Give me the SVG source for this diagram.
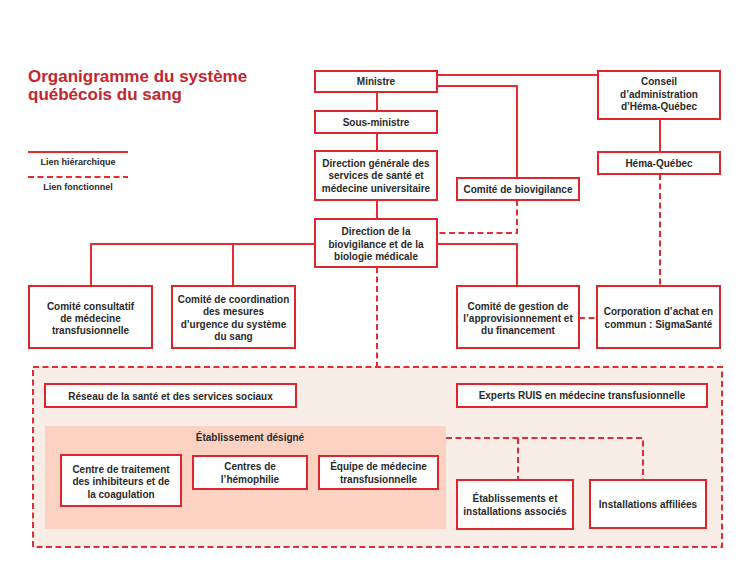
<svg xmlns="http://www.w3.org/2000/svg" width="750" height="580" viewBox="0 0 750 580">
<style>
.box{fill:#fff;stroke:#e0262d;stroke-width:2}
.ln{fill:none;stroke:#e52c32;stroke-width:2}
.ds{fill:none;stroke:#e52c32;stroke-width:2;stroke-dasharray:6 3.5}
.t{font-family:"Liberation Sans",Arial,sans-serif;font-size:10px;font-weight:bold;fill:#2a2a2a;text-anchor:middle}
.lg{font-family:"Liberation Sans",Arial,sans-serif;font-size:9px;font-weight:bold;fill:#2a2a2a;text-anchor:middle}
.title{font-family:"Liberation Sans",Arial,sans-serif;font-size:17px;font-weight:bold;fill:#c1272d}
</style>
<rect width="750" height="580" fill="#fff"/>
<g id="title">
<text class="title" x="28" y="82">Organigramme du système</text>
<text class="title" x="28" y="100">québécois du sang</text>
</g>
<g id="legend">
<line class="ln" x1="28" y1="152" x2="128" y2="152"/>
<text class="lg" x="78" y="165">Lien hiérarchique</text>
<line class="ds" x1="28" y1="177" x2="128" y2="177"/>
<text class="lg" x="78" y="189.5">Lien fonctionnel</text>
</g>
<g id="zone-reseau">
<rect x="33" y="367" width="689" height="180" fill="#f9ede7" stroke="#e52c32" stroke-width="2" stroke-dasharray="6 3.5"/>
<rect x="45" y="426" width="401" height="103" fill="#fcd3c3"/>
<text class="t" x="250" y="441">Établissement désigné</text>
</g>
<g id="connectors">
<line class="ln" x1="377" y1="92" x2="377" y2="111"/>
<line class="ln" x1="377" y1="133" x2="377" y2="151"/>
<line class="ln" x1="377" y1="200" x2="377" y2="219"/>
<line class="ln" x1="437" y1="75" x2="598" y2="75"/>
<polyline class="ln" points="437,86 517,86 517,178"/>
<line class="ln" x1="660" y1="119" x2="660" y2="152"/>
<polyline class="ds" points="517,200 517,233 437,233"/>
<polyline class="ln" points="437,244 517,244 517,286"/>
<polyline class="ln" points="315,244 91,244 91,286"/>
<line class="ln" x1="233" y1="244" x2="233" y2="286"/>
<line class="ds" x1="660" y1="174" x2="660" y2="286"/>
<line class="ds" x1="579" y1="318" x2="597" y2="318"/>
<line class="ds" x1="377" y1="267" x2="377" y2="367"/>
<polyline class="ds" points="446,438 643,438 643,480"/>
<line class="ds" x1="518" y1="438" x2="518" y2="480"/>
</g>
<g id="ministre">
<rect class="box" x="315" y="71" width="122" height="21"/>
<text class="t" x="376" y="85">Ministre</text>
</g>
<g id="sous-ministre">
<rect class="box" x="315" y="111" width="122" height="22"/>
<text class="t" x="376" y="125.5">Sous-ministre</text>
</g>
<g id="direction-generale">
<rect class="box" x="315" y="151" width="122" height="49"/>
<text class="t" x="376" y="166.5">Direction générale des</text>
<text class="t" x="376" y="179">services de santé et</text>
<text class="t" x="376" y="191.5">médecine universitaire</text>
</g>
<g id="direction-biovigilance">
<rect class="box" x="315" y="219" width="122" height="48"/>
<text class="t" x="376" y="235">Direction de la</text>
<text class="t" x="376" y="247.5">biovigilance et de la</text>
<text class="t" x="376" y="259.5">biologie médicale</text>
</g>
<g id="comite-biovigilance">
<rect class="box" x="457" y="178" width="122" height="22"/>
<text class="t" x="518" y="192.5">Comité de biovigilance</text>
</g>
<g id="conseil">
<rect class="box" x="598" y="71" width="122" height="48"/>
<text class="t" x="659" y="85">Conseil</text>
<text class="t" x="659" y="97.5">d’administration</text>
<text class="t" x="659" y="110">d’Héma-Québec</text>
</g>
<g id="hema-quebec">
<rect class="box" x="598" y="152" width="122" height="22"/>
<text class="t" x="659" y="167">Héma-Québec</text>
</g>
<g id="comite-consultatif">
<rect class="box" x="29" y="286" width="123" height="62"/>
<text class="t" x="90.5" y="309.5">Comité consultatif</text>
<text class="t" x="90.5" y="322">de médecine</text>
<text class="t" x="90.5" y="334">transfusionnelle</text>
</g>
<g id="comite-coordination">
<rect class="box" x="172" y="286" width="123" height="62"/>
<text class="t" x="233.5" y="303">Comité de coordination</text>
<text class="t" x="233.5" y="315">des mesures</text>
<text class="t" x="233.5" y="327.5">d’urgence du système</text>
<text class="t" x="233.5" y="340">du sang</text>
</g>
<g id="comite-gestion">
<rect class="box" x="457" y="286" width="122" height="62"/>
<text class="t" x="518" y="309.5">Comité de gestion de</text>
<text class="t" x="518" y="322">l’approvisionnement et</text>
<text class="t" x="518" y="334">du financement</text>
</g>
<g id="corporation">
<rect class="box" x="597" y="286" width="123" height="62"/>
<text class="t" x="658.5" y="315">Corporation d’achat en</text>
<text class="t" x="658.5" y="327.5">commun : SigmaSanté</text>
</g>
<g id="reseau">
<rect class="box" x="45" y="384" width="251" height="23"/>
<text class="t" x="170.5" y="399.5">Réseau de la santé et des services sociaux</text>
</g>
<g id="experts-ruis">
<rect class="box" x="457" y="384" width="250" height="23"/>
<text class="t" x="582" y="398.5">Experts RUIS en médecine transfusionnelle</text>
</g>
<g id="centre-traitement">
<rect class="box" x="61" y="455" width="120" height="51"/>
<text class="t" x="121" y="472.5">Centre de traitement</text>
<text class="t" x="121" y="485">des inhibiteurs et de</text>
<text class="t" x="121" y="497.5">la coagulation</text>
</g>
<g id="centres-hemophilie">
<rect class="box" x="193" y="456" width="114" height="33"/>
<text class="t" x="250" y="470">Centres de</text>
<text class="t" x="250" y="482.5">l’hémophilie</text>
</g>
<g id="equipe-medecine">
<rect class="box" x="319" y="456" width="119" height="33"/>
<text class="t" x="378.5" y="470">Équipe de médecine</text>
<text class="t" x="378.5" y="482.5">transfusionnelle</text>
</g>
<g id="etablissements-associes">
<rect class="box" x="457" y="480" width="116" height="49"/>
<text class="t" x="515" y="502">Établissements et</text>
<text class="t" x="515" y="514.5">installations associés</text>
</g>
<g id="installations-affiliees">
<rect class="box" x="590" y="480" width="116" height="48"/>
<text class="t" x="648" y="507.5">Installations affiliées</text>
</g>
</svg>
